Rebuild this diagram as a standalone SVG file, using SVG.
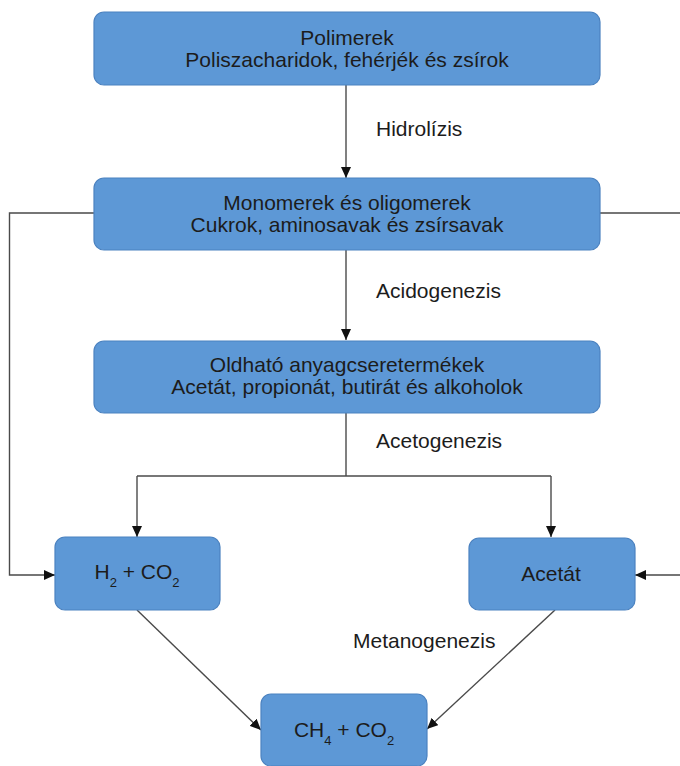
<svg xmlns="http://www.w3.org/2000/svg" width="680" height="766" viewBox="0 0 680 766">
<defs>
<style>
.box{fill:#5d98d6;stroke:#4b82c0;stroke-width:1.2}
.t{font-family:"Liberation Sans",Arial,sans-serif;font-size:21px;fill:#1c1c1c;text-anchor:middle}
.lbl{font-family:"Liberation Sans",Arial,sans-serif;font-size:21px;fill:#1c1c1c}
.sub{font-size:13px}
.c{fill:none;stroke:#4a4a4a;stroke-width:1.4}
</style>
<marker id="ah" markerWidth="12" markerHeight="10" refX="11" refY="5" orient="auto" markerUnits="userSpaceOnUse">
<path d="M0,0 L11,5 L0,10 Z" fill="#111"/>
</marker>
</defs>
<rect width="680" height="766" fill="#ffffff"/>

<g id="connectors">
<path class="c" d="M346,85 V178" marker-end="url(#ah)"/>
<path class="c" d="M346,250 V340" marker-end="url(#ah)"/>
<path class="c" d="M346,413 V476"/>
<path class="c" d="M137,476 H551"/>
<path class="c" d="M137,476 V537" marker-end="url(#ah)"/>
<path class="c" d="M551,476 V537" marker-end="url(#ah)"/>
<path class="c" d="M94,213 H9.5 V575 H55" marker-end="url(#ah)"/>
<path class="c" d="M600,213 H690 V575 H635" marker-end="url(#ah)"/>
<path class="c" d="M137,610 L261,730" marker-end="url(#ah)"/>
<path class="c" d="M555,610 L427,729" marker-end="url(#ah)"/>
<text class="lbl" x="376" y="136">Hidrolízis</text>
<text class="lbl" x="376" y="298">Acidogenezis</text>
<text class="lbl" x="376" y="448">Acetogenezis</text>
<text class="lbl" x="353" y="648">Metanogenezis</text>
</g>

<g id="polimerek">
<rect class="box" x="94" y="12" width="506" height="73" rx="10"/>
<text class="t" x="347" y="45">Polimerek</text>
<text class="t" x="347" y="67">Poliszacharidok, fehérjék és zsírok</text>
</g>

<g id="monomerek">
<rect class="box" x="94" y="178" width="506" height="72" rx="10"/>
<text class="t" x="347" y="210">Monomerek és oligomerek</text>
<text class="t" x="347" y="232">Cukrok, aminosavak és zsírsavak</text>
</g>

<g id="oldhato">
<rect class="box" x="94" y="341" width="506" height="72" rx="10"/>
<text class="t" x="347" y="372">Oldható anyagcseretermékek</text>
<text class="t" x="347" y="394">Acetát, propionát, butirát és alkoholok</text>
</g>

<g id="h2co2">
<rect class="box" x="55" y="537" width="165" height="73" rx="10"/>
<text class="t" x="137" y="579">H<tspan class="sub" dy="8">2</tspan><tspan dy="-8"> + CO</tspan><tspan class="sub" dy="8">2</tspan></text>
</g>

<g id="acetat">
<rect class="box" x="469" y="538" width="166" height="72" rx="10"/>
<text class="t" x="551" y="581">Acetát</text>
</g>

<g id="ch4co2">
<rect class="box" x="261" y="694" width="166" height="72" rx="10"/>
<text class="t" x="344" y="737">CH<tspan class="sub" dy="8">4</tspan><tspan dy="-8"> + CO</tspan><tspan class="sub" dy="8">2</tspan></text>
</g>
</svg>
